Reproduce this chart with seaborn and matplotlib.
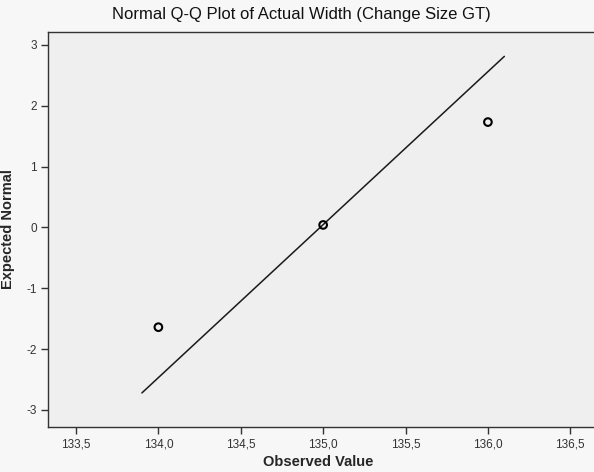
import matplotlib
matplotlib.use("Agg")
from matplotlib import pyplot as plt
import matplotlib.ticker as mticker
import pandas as pd
import seaborn as sns

# data
observed = [134.0, 135.0, 136.0]
expected = [-1.64, 0.04, 1.73]
line_x = [133.90, 136.10]
line_y = [-2.72, 2.81]
x_ticks = [133.5, 134.0, 134.5, 135.0, 135.5, 136.0, 136.5]
y_ticks = [-3, -2, -1, 0, 1, 2, 3]

sns.set_style("white")
plt.rcParams['font.family'] = ['Liberation Sans', 'DejaVu Sans']
plt.rcParams['axes.unicode_minus'] = False

pts = pd.DataFrame({'Observed Value': observed, 'Expected Normal': expected})
ref = pd.DataFrame({'x': line_x, 'y': line_y})

fig = plt.figure(figsize=(5.94, 4.72), dpi=100)
fig.patch.set_facecolor('#f7f7f7')
ax = fig.add_axes([48 / 594, 1 - 427 / 472, 1 - 48 / 594 + 0.01, (427 - 32) / 472])
ax.set_facecolor('#efefef')

sns.lineplot(data=ref, x='x', y='y', color='#1a1a1a', linewidth=1.1, ax=ax)
sns.scatterplot(data=pts, x='Observed Value', y='Expected Normal', ax=ax,
                marker='o', s=30, facecolor='none', edgecolor='black', linewidth=1.5,
                zorder=3)

ax.set_xlim(133.33, 136.68)
ax.set_ylim(-3.28, 3.21)
ax.set_xticks(x_ticks)
ax.set_yticks(y_ticks)
ax.xaxis.set_major_formatter(mticker.FuncFormatter(lambda v, p: f'{v:.1f}'.replace('.', ',')))
ax.tick_params(axis='both', direction='out', length=5, width=1, color='#333333',
               labelsize=8.5, labelcolor='#333333', pad=3, left=True, bottom=True)

for side in ['left', 'bottom', 'top']:
    ax.spines[side].set_color('#333333')
    ax.spines[side].set_linewidth(1.0)
ax.spines['right'].set_visible(False)

ax.set_xlabel('Observed Value', fontsize=10.5, fontweight='bold')
ax.set_ylabel('Expected Normal', fontsize=10.5, fontweight='bold')
ax.xaxis.set_label_coords(0.5 - 0.01, -0.072)
ax.yaxis.set_label_coords(-0.06, 0.5)
fig.text(0.507, 1 - 15 / 472, 'Normal Q-Q Plot of Actual Width (Change Size GT)',
         ha='center', va='center', fontsize=12, color='#111111')

fig.savefig('out.png', dpi=100, facecolor=fig.get_facecolor())
